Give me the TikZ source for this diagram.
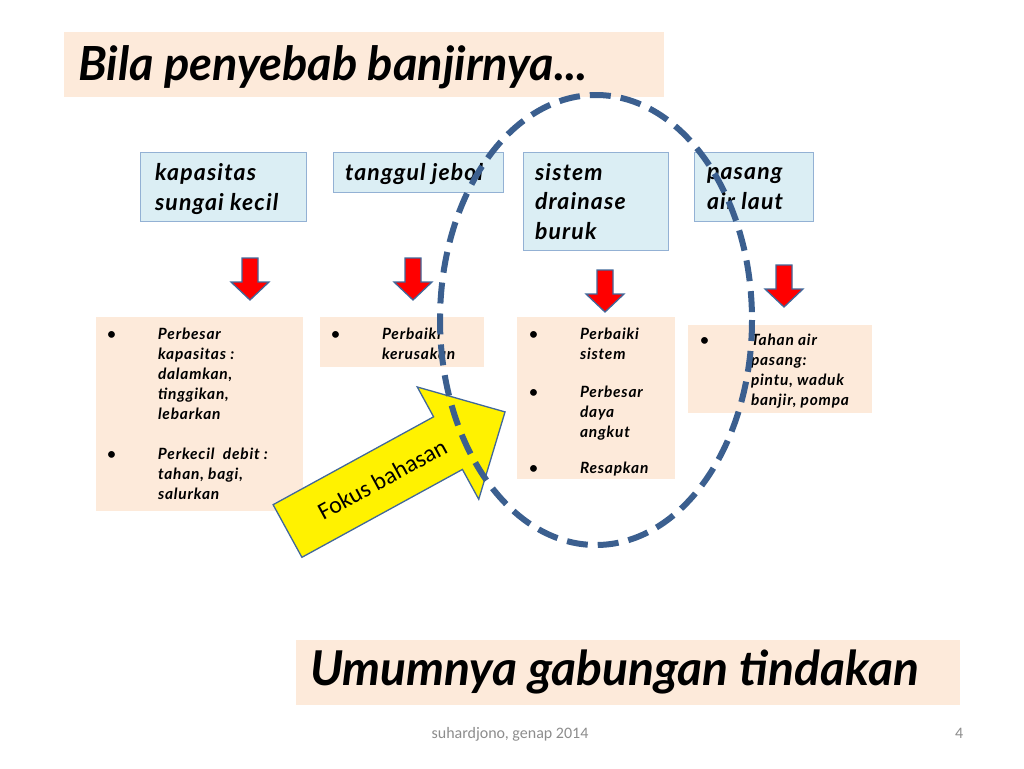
\documentclass[tikz,border=0pt]{standalone}
\usepackage{fontspec}
\setmainfont{Lato}
\newfontfamily\calibri{Carlito}
\newfontfamily\wide{Lato}[LetterSpace=5]
\usetikzlibrary{positioning,calc}
\definecolor{peach}{HTML}{FDEADA}
\definecolor{skyfill}{HTML}{DBEEF4}
\definecolor{skyline}{HTML}{93B1D4}
\definecolor{ringblue}{HTML}{3B5F8F}
\definecolor{arrowline}{HTML}{41689A}
\definecolor{footgray}{HTML}{8C8C8C}
\newcommand{\bul}{\llap{\makebox[51pt][l]{\textbullet}}}

\begin{document}
\begin{tikzpicture}[x=1pt,y=-1pt,
every node/.style={inner sep=0pt,outer sep=0pt},
titlebox/.style={fill=peach,anchor=north west},
causebox/.style={fill=skyfill,draw=skyline,line width=1pt,anchor=north west},
actionbox/.style={fill=peach,anchor=north west},
bigtext/.style={font=\fontsize{47}{52}\selectfont\bfseries\itshape,anchor=base west},
causetext/.style={font=\wide\fontsize{23}{29.5}\selectfont\bfseries\itshape,align=left,anchor=base west},
actiontext/.style={font=\wide\fontsize{15.5}{20}\selectfont\bfseries\itshape,align=left,anchor=base west},
redarrow/.pic={\draw[fill=red,draw=arrowline,line width=1.3pt,line join=miter]
  (-8,0) -- (8,0) -- (8,24) -- (19,24) -- (0,42) -- (-19,24) -- (-8,24) -- cycle;},
focusring/.style={draw=ringblue,line width=6pt,dash pattern=on 21pt off 10pt}]
\useasboundingbox (0,0) rectangle (1024,768);
% title
\node[titlebox,minimum width=600,minimum height=65] (titlebg) at (64,32) {};
\node[bigtext] (title) at (78,80) {Bila penyebab banjirnya...};
% causes (text nodes sit on their last baseline)
\node[causebox,minimum width=166,minimum height=69] (c1) at (140,152) {};
\node[causebox,minimum width=170,minimum height=40] (c2) at (333,152) {};
\node[causebox,minimum width=145,minimum height=98] (c3) at (523,152) {};
\node[causebox,minimum width=119,minimum height=69] (c4) at (694,152) {};
\node[causetext] (t1) at (155,210) {kapasitas\\sungai kecil};
\node[causetext] (t2) at (345,180) {tanggul jebol};
\node[causetext] (t3) at (535,239) {sistem\\drainase\\buruk};
\node[causetext] (t4) at (707,209) {pasang\\air laut};
% arrows
\pic (a1) at (250,258) {redarrow};
\pic (a2) at (413,258) {redarrow};
\pic (a3) at (605,270) {redarrow};
\pic (a4) at (784,265) {redarrow};
% actions
\node[actionbox,minimum width=207,minimum height=194] (b1) at (96,317) {};
\node[actionbox,minimum width=164,minimum height=50] (b2) at (320,317) {};
\node[actionbox,minimum width=158,minimum height=162] (b3) at (517,317) {};
\node[actionbox,minimum width=184,minimum height=88] (b4) at (688,325) {};
\node[actiontext] (s1) at (158,499) {\bul Perbesar\\kapasitas :\\dalamkan,\\tinggikan,\\lebarkan\\[20pt]
  \bul Perkecil\ \ debit :\\tahan, bagi,\\salurkan};
\node[actiontext] (s2) at (382,359) {\bul Perbaiki\\kerusakan};
\node[actiontext] (s3) at (580,473) {\bul Perbaiki\\sistem\\[18pt]\bul Perbesar\\daya\\angkut\\[16pt]\bul Resapkan};
\node[actiontext] (s4) at (751,405) {\bul Tahan air\\pasang:\\pintu, waduk\\banjir, pompa};
% focus arrow
\begin{scope}[shift={(287.5,531)},rotate=28.7]
\draw[fill=yellow,draw=arrowline,line width=1.3pt,line join=miter]
  (0,-30) -- (183,-30) -- (183,-64) -- (248,0) -- (183,64) -- (183,30) -- (0,30) -- cycle;
\node[font=\calibri\fontsize{24}{26}\selectfont,rotate=28.7] (focuslabel) at (108,0) {Fokus bahasan};
\end{scope}
\coordinate (ringctr) at (596,320);
\draw[focusring] (ringctr) ellipse [x radius=156,y radius=225];
% conclusion
\node[titlebox,minimum width=664,minimum height=65] (endbg) at (296,640) {};
\node[bigtext,font=\fontsize{48}{54}\selectfont\bfseries\itshape] (endtext) at (310,685) {Umumnya gabungan tindakan};
% footer
\node[font=\calibri\fontsize{16}{18}\selectfont,text=footgray,anchor=base] (foot) at (510,738) {suhardjono, genap 2014};
\node[font=\calibri\fontsize{16}{18}\selectfont,text=footgray,anchor=base west] (pageno) at (955,738) {4};
\end{tikzpicture}
\end{document}
